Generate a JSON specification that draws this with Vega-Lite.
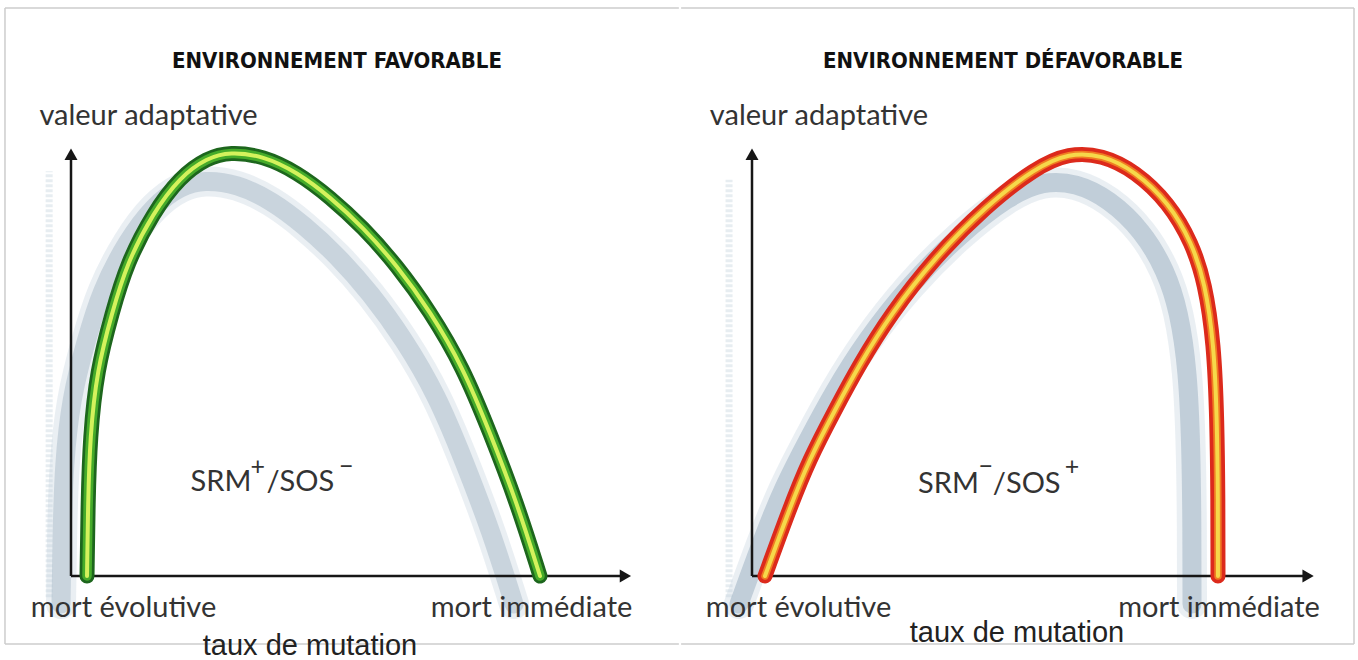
{
  "$schema": "https://vega.github.io/schema/vega-lite/v6.json",
  "padding": 0,
  "background": "white",
  "spacing": 0,
  "config": {"view": {"stroke": null, "strokeWidth": 0}, "style": {"cell": {"stroke": null, "strokeWidth": 0}}},
  "datasets": {"all": [
    {"p":"A","k":"c","i":0,"x":0.0286,"y":0},
    {"p":"A","k":"c","i":1,"x":0.0304,"y":0.1714},
    {"p":"A","k":"c","i":2,"x":0.0339,"y":0.3263},
    {"p":"A","k":"c","i":3,"x":0.0464,"y":0.4836},
    {"p":"A","k":"c","i":4,"x":0.0732,"y":0.6174},
    {"p":"A","k":"c","i":5,"x":0.1,"y":0.7347},
    {"p":"A","k":"c","i":6,"x":0.1464,"y":0.8521},
    {"p":"A","k":"c","i":7,"x":0.1946,"y":0.9366},
    {"p":"A","k":"c","i":8,"x":0.2429,"y":0.9815},
    {"p":"A","k":"c","i":9,"x":0.2839,"y":0.9956},
    {"p":"A","k":"c","i":10,"x":0.3429,"y":0.9862},
    {"p":"A","k":"c","i":11,"x":0.4036,"y":0.948},
    {"p":"A","k":"c","i":12,"x":0.4625,"y":0.8897},
    {"p":"A","k":"c","i":13,"x":0.5214,"y":0.8186},
    {"p":"A","k":"c","i":14,"x":0.5821,"y":0.7288},
    {"p":"A","k":"c","i":15,"x":0.6411,"y":0.6215},
    {"p":"A","k":"c","i":16,"x":0.7,"y":0.49},
    {"p":"A","k":"c","i":17,"x":0.7482,"y":0.3363},
    {"p":"A","k":"c","i":18,"x":0.7964,"y":0.1714},
    {"p":"A","k":"c","i":19,"x":0.8375,"y":0},

    {"p":"A","k":"s","i":0,"x":-0.0178,"y":-0.0657},
    {"p":"A","k":"s","i":1,"x":-0.016,"y":0.1057},
    {"p":"A","k":"s","i":2,"x":-0.0125,"y":0.2606},
    {"p":"A","k":"s","i":3,"x":0.0,"y":0.4179},
    {"p":"A","k":"s","i":4,"x":0.0268,"y":0.5517},
    {"p":"A","k":"s","i":5,"x":0.0536,"y":0.669},
    {"p":"A","k":"s","i":6,"x":0.1,"y":0.7864},
    {"p":"A","k":"s","i":7,"x":0.1482,"y":0.8709},
    {"p":"A","k":"s","i":8,"x":0.1965,"y":0.9158},
    {"p":"A","k":"s","i":9,"x":0.2375,"y":0.9299},
    {"p":"A","k":"s","i":10,"x":0.2965,"y":0.9205},
    {"p":"A","k":"s","i":11,"x":0.3572,"y":0.8823},
    {"p":"A","k":"s","i":12,"x":0.4161,"y":0.824},
    {"p":"A","k":"s","i":13,"x":0.475,"y":0.7529},
    {"p":"A","k":"s","i":14,"x":0.5357,"y":0.6631},
    {"p":"A","k":"s","i":15,"x":0.5947,"y":0.5558},
    {"p":"A","k":"s","i":16,"x":0.6536,"y":0.4243},
    {"p":"A","k":"s","i":17,"x":0.7018,"y":0.2706},
    {"p":"A","k":"s","i":18,"x":0.75,"y":0.1057},
    {"p":"A","k":"s","i":19,"x":0.7911,"y":-0.0657},

    {"p":"B","k":"c","i":0,"x":0.0232,"y":0},
    {"p":"B","k":"c","i":1,"x":0.0661,"y":0.1549},
    {"p":"B","k":"c","i":2,"x":0.1018,"y":0.2723},
    {"p":"B","k":"c","i":3,"x":0.1482,"y":0.3897},
    {"p":"B","k":"c","i":4,"x":0.1921,"y":0.497},
    {"p":"B","k":"c","i":5,"x":0.2475,"y":0.6144},
    {"p":"B","k":"c","i":6,"x":0.3268,"y":0.7482},
    {"p":"B","k":"c","i":7,"x":0.4161,"y":0.8662},
    {"p":"B","k":"c","i":8,"x":0.5054,"y":0.9581},
    {"p":"B","k":"c","i":9,"x":0.5661,"y":0.9933},
    {"p":"B","k":"c","i":10,"x":0.625,"y":0.9886},
    {"p":"B","k":"c","i":11,"x":0.6839,"y":0.951},
    {"p":"B","k":"c","i":12,"x":0.7446,"y":0.8756},
    {"p":"B","k":"c","i":13,"x":0.7857,"y":0.7817},
    {"p":"B","k":"c","i":14,"x":0.8089,"y":0.6878},
    {"p":"B","k":"c","i":15,"x":0.8248,"y":0.5469},
    {"p":"B","k":"c","i":16,"x":0.8304,"y":0.3662},
    {"p":"B","k":"c","i":17,"x":0.8321,"y":0.1784},
    {"p":"B","k":"c","i":18,"x":0.8321,"y":0},

    {"p":"B","k":"s","i":0,"x":-0.0232,"y":-0.0657},
    {"p":"B","k":"s","i":1,"x":0.0197,"y":0.0892},
    {"p":"B","k":"s","i":2,"x":0.0554,"y":0.2066},
    {"p":"B","k":"s","i":3,"x":0.1018,"y":0.324},
    {"p":"B","k":"s","i":4,"x":0.1457,"y":0.4313},
    {"p":"B","k":"s","i":5,"x":0.2011,"y":0.5487},
    {"p":"B","k":"s","i":6,"x":0.2804,"y":0.6825},
    {"p":"B","k":"s","i":7,"x":0.3697,"y":0.8005},
    {"p":"B","k":"s","i":8,"x":0.459,"y":0.8924},
    {"p":"B","k":"s","i":9,"x":0.5197,"y":0.9276},
    {"p":"B","k":"s","i":10,"x":0.5786,"y":0.9229},
    {"p":"B","k":"s","i":11,"x":0.6375,"y":0.8853},
    {"p":"B","k":"s","i":12,"x":0.6982,"y":0.8099},
    {"p":"B","k":"s","i":13,"x":0.7393,"y":0.716},
    {"p":"B","k":"s","i":14,"x":0.7625,"y":0.6221},
    {"p":"B","k":"s","i":15,"x":0.7784,"y":0.4812},
    {"p":"B","k":"s","i":16,"x":0.784,"y":0.3005},
    {"p":"B","k":"s","i":17,"x":0.7857,"y":0.1127},
    {"p":"B","k":"s","i":18,"x":0.7857,"y":-0.0657},

    {"p":"A","k":"as","x":-0.039,"y":-0.05,"x2":-0.039,"y2":0.95},
    {"p":"B","k":"as","x":-0.041,"y":-0.05,"x2":-0.041,"y2":0.93},

    {"p":"A","k":"ax","x":0,"y":0,"x2":0,"y2":0.985},
    {"p":"A","k":"ax","x":0,"y":0,"x2":0.985,"y2":0},
    {"p":"B","k":"ax","x":0,"y":0,"x2":0,"y2":0.985},
    {"p":"B","k":"ax","x":0,"y":0,"x2":0.988,"y2":0},

    {"p":"A","k":"ar","x":0,"y":0.99,"sh":"triangle-up"},
    {"p":"A","k":"ar","x":0.99,"y":0,"sh":"triangle-right"},
    {"p":"B","k":"ar","x":0,"y":0.99,"sh":"triangle-up"},
    {"p":"B","k":"ar","x":0.993,"y":0,"sh":"triangle-right"},

    {"p":"A","k":"fr","x":-0.1179,"y":1.3333,"x2":1.0855,"y2":1.3333},
    {"p":"A","k":"fr","x":-0.1179,"y":-0.1596,"x2":1.0855,"y2":-0.1596},
    {"p":"A","k":"fr","x":-0.1179,"y":-0.1596,"x2":-0.1179,"y2":1.3333},
    {"p":"B","k":"fr","x":-0.1266,"y":1.3333,"x2":1.075,"y2":1.3333},
    {"p":"B","k":"fr","x":-0.1266,"y":-0.1596,"x2":1.075,"y2":-0.1596},
    {"p":"B","k":"fr","x":1.075,"y":-0.1596,"x2":1.075,"y2":1.3333},

    {"p":"A","k":"ti","x":0.475,"y":1.1925,"t":"ENVIRONNEMENT FAVORABLE"},
    {"p":"B","k":"ti","x":0.4482,"y":1.1925,"t":"ENVIRONNEMENT DÉFAVORABLE"},

    {"p":"A","k":"lb","x":0.1384,"y":1.0587,"t":"valeur adaptative"},
    {"p":"A","k":"lb","x":0.0938,"y":-0.0962,"t":"mort évolutive"},
    {"p":"A","k":"lb","x":0.8223,"y":-0.0962,"t":"mort immédiate"},
    {"p":"B","k":"lb","x":0.1196,"y":1.0587,"t":"valeur adaptative"},
    {"p":"B","k":"lb","x":0.083,"y":-0.0962,"t":"mort évolutive"},
    {"p":"B","k":"lb","x":0.8339,"y":-0.0962,"t":"mort immédiate"},

    {"p":"A","k":"lt","x":0.4268,"y":-0.1854,"t":"taux de mutation"},
    {"p":"B","k":"lt","x":0.4732,"y":-0.1549,"t":"taux de mutation"},

    {"p":"A","k":"sr","x":0.2679,"y":0.1995,"t":"SRM"},
    {"p":"A","k":"sr","x":0.4095,"y":0.1995,"t":"/SOS"},
    {"p":"A","k":"su","x":0.3335,"y":0.236,"t":"+"},
    {"p":"A","k":"su","x":0.4915,"y":0.236,"t":"−"},
    {"p":"B","k":"sr","x":0.3509,"y":0.1948,"t":"SRM"},
    {"p":"B","k":"sr","x":0.4905,"y":0.1948,"t":"/SOS"},
    {"p":"B","k":"su","x":0.4175,"y":0.236,"t":"−"},
    {"p":"B","k":"su","x":0.5715,"y":0.236,"t":"+"}
  ]},
  "hconcat": [
    {
      "width": 679,
      "height": 660,
      "view": {"stroke": null},
      "data": {"name": "all"},
      "transform": [{"filter": "datum.p === 'A'"}],
      "encoding": {
        "x": {"field": "x", "type": "quantitative", "axis": null, "scale": {"domain": [-0.12679, 1.08571], "nice": false, "zero": false}},
        "y": {"field": "y", "type": "quantitative", "axis": null, "scale": {"domain": [-0.19718, 1.35211], "nice": false, "zero": false}}
      },
      "layer": [
        {"transform": [{"filter": "datum.k === 'fr'"}],
         "mark": {"type": "rule", "color": "#cdcdcd", "strokeWidth": 1.5},
         "encoding": {"x2": {"field": "x2"}, "y2": {"field": "y2"}}},
        {"transform": [{"filter": "datum.k === 'as'"}],
         "mark": {"type": "rule", "color": "#c3d2dc", "strokeWidth": 7, "opacity": 0.4, "strokeDash": [3, 2]},
         "encoding": {"x2": {"field": "x2"}, "y2": {"field": "y2"}}},
        {"transform": [{"filter": "datum.k === 's'"}],
         "mark": {"type": "line", "interpolate": "basis", "color": "#c2d1dc", "strokeWidth": 30, "strokeCap": "round", "strokeJoin": "round", "opacity": 0.35},
         "encoding": {"order": {"field": "i", "type": "quantitative"}}},
        {"transform": [{"filter": "datum.k === 's'"}],
         "mark": {"type": "line", "interpolate": "basis", "color": "#a7bac8", "strokeWidth": 19, "strokeCap": "round", "strokeJoin": "round", "opacity": 0.5},
         "encoding": {"order": {"field": "i", "type": "quantitative"}}},
        {"transform": [{"filter": "datum.k === 'ax'"}],
         "mark": {"type": "rule", "color": "#161616", "strokeWidth": 2.5},
         "encoding": {"x2": {"field": "x2"}, "y2": {"field": "y2"}}},
        {"transform": [{"filter": "datum.k === 'ar'"}],
         "mark": {"type": "point", "filled": true, "color": "#161616", "size": 170, "opacity": 1},
         "encoding": {"shape": {"field": "sh", "type": "nominal", "scale": null}}},
        {"transform": [{"filter": "datum.k === 'c'"}],
         "mark": {"type": "line", "interpolate": "basis", "color": "#1d661d", "strokeWidth": 15, "strokeCap": "round", "strokeJoin": "round"},
         "encoding": {"order": {"field": "i", "type": "quantitative"}}},
        {"transform": [{"filter": "datum.k === 'c'"}],
         "mark": {"type": "line", "interpolate": "basis", "color": "#45ab2a", "strokeWidth": 9.5, "strokeCap": "round", "strokeJoin": "round"},
         "encoding": {"order": {"field": "i", "type": "quantitative"}}},
        {"transform": [{"filter": "datum.k === 'c'"}],
         "mark": {"type": "line", "interpolate": "basis", "color": "#d4f25c", "strokeWidth": 4, "strokeCap": "round", "strokeJoin": "round"},
         "encoding": {"order": {"field": "i", "type": "quantitative"}}},
        {"transform": [{"filter": "datum.k === 'ti'"}],
         "mark": {"type": "text", "font": "DejaVu Sans Condensed, DejaVu Sans", "fontWeight": "bold", "fontSize": 22, "color": "#111111", "align": "center", "baseline": "alphabetic"},
         "encoding": {"text": {"field": "t"}}},
        {"transform": [{"filter": "datum.k === 'lb'"}],
         "mark": {"type": "text", "font": "Lato", "fontSize": 29, "color": "#333333", "align": "center", "baseline": "alphabetic"},
         "encoding": {"text": {"field": "t"}}},
        {"transform": [{"filter": "datum.k === 'lt'"}],
         "mark": {"type": "text", "font": "Liberation Sans", "fontSize": 29, "color": "#222222", "align": "center", "baseline": "alphabetic"},
         "encoding": {"text": {"field": "t"}}},
        {"transform": [{"filter": "datum.k === 'sr'"}],
         "mark": {"type": "text", "font": "Lato", "fontSize": 29, "color": "#333333", "align": "center", "baseline": "alphabetic"},
         "encoding": {"text": {"field": "t"}}},
        {"transform": [{"filter": "datum.k === 'su'"}],
         "mark": {"type": "text", "font": "Lato", "fontSize": 25, "color": "#333333", "align": "center", "baseline": "alphabetic"},
         "encoding": {"text": {"field": "t"}}}
      ]
    },
    {
      "width": 679,
      "height": 660,
      "view": {"stroke": null},
      "data": {"name": "all"},
      "transform": [{"filter": "datum.p === 'B'"}],
      "encoding": {
        "x": {"field": "x", "type": "quantitative", "axis": null, "scale": {"domain": [-0.12679, 1.08571], "nice": false, "zero": false}},
        "y": {"field": "y", "type": "quantitative", "axis": null, "scale": {"domain": [-0.19718, 1.35211], "nice": false, "zero": false}}
      },
      "layer": [
        {"transform": [{"filter": "datum.k === 'fr'"}],
         "mark": {"type": "rule", "color": "#cdcdcd", "strokeWidth": 1.5},
         "encoding": {"x2": {"field": "x2"}, "y2": {"field": "y2"}}},
        {"transform": [{"filter": "datum.k === 'as'"}],
         "mark": {"type": "rule", "color": "#c3d2dc", "strokeWidth": 7, "opacity": 0.4, "strokeDash": [3, 2]},
         "encoding": {"x2": {"field": "x2"}, "y2": {"field": "y2"}}},
        {"transform": [{"filter": "datum.k === 's'"}],
         "mark": {"type": "line", "interpolate": "basis", "color": "#c2d1dc", "strokeWidth": 30, "strokeCap": "round", "strokeJoin": "round", "opacity": 0.35},
         "encoding": {"order": {"field": "i", "type": "quantitative"}}},
        {"transform": [{"filter": "datum.k === 's'"}],
         "mark": {"type": "line", "interpolate": "basis", "color": "#9fb3c2", "strokeWidth": 19, "strokeCap": "round", "strokeJoin": "round", "opacity": 0.55},
         "encoding": {"order": {"field": "i", "type": "quantitative"}}},
        {"transform": [{"filter": "datum.k === 'ax'"}],
         "mark": {"type": "rule", "color": "#161616", "strokeWidth": 2.5},
         "encoding": {"x2": {"field": "x2"}, "y2": {"field": "y2"}}},
        {"transform": [{"filter": "datum.k === 'ar'"}],
         "mark": {"type": "point", "filled": true, "color": "#161616", "size": 170, "opacity": 1},
         "encoding": {"shape": {"field": "sh", "type": "nominal", "scale": null}}},
        {"transform": [{"filter": "datum.k === 'c'"}],
         "mark": {"type": "line", "interpolate": "basis", "color": "#dc2a1c", "strokeWidth": 15, "strokeCap": "round", "strokeJoin": "round"},
         "encoding": {"order": {"field": "i", "type": "quantitative"}}},
        {"transform": [{"filter": "datum.k === 'c'"}],
         "mark": {"type": "line", "interpolate": "basis", "color": "#f07c22", "strokeWidth": 7.5, "strokeCap": "round", "strokeJoin": "round"},
         "encoding": {"order": {"field": "i", "type": "quantitative"}}},
        {"transform": [{"filter": "datum.k === 'c'"}],
         "mark": {"type": "line", "interpolate": "basis", "color": "#f6d84a", "strokeWidth": 4, "strokeCap": "round", "strokeJoin": "round"},
         "encoding": {"order": {"field": "i", "type": "quantitative"}}},
        {"transform": [{"filter": "datum.k === 'ti'"}],
         "mark": {"type": "text", "font": "DejaVu Sans Condensed, DejaVu Sans", "fontWeight": "bold", "fontSize": 22, "color": "#111111", "align": "center", "baseline": "alphabetic"},
         "encoding": {"text": {"field": "t"}}},
        {"transform": [{"filter": "datum.k === 'lb'"}],
         "mark": {"type": "text", "font": "Lato", "fontSize": 29, "color": "#333333", "align": "center", "baseline": "alphabetic"},
         "encoding": {"text": {"field": "t"}}},
        {"transform": [{"filter": "datum.k === 'lt'"}],
         "mark": {"type": "text", "font": "Liberation Sans", "fontSize": 29, "color": "#222222", "align": "center", "baseline": "alphabetic"},
         "encoding": {"text": {"field": "t"}}},
        {"transform": [{"filter": "datum.k === 'sr'"}],
         "mark": {"type": "text", "font": "Lato", "fontSize": 29, "color": "#333333", "align": "center", "baseline": "alphabetic"},
         "encoding": {"text": {"field": "t"}}},
        {"transform": [{"filter": "datum.k === 'su'"}],
         "mark": {"type": "text", "font": "Lato", "fontSize": 25, "color": "#333333", "align": "center", "baseline": "alphabetic"},
         "encoding": {"text": {"field": "t"}}}
      ]
    }
  ]
}
